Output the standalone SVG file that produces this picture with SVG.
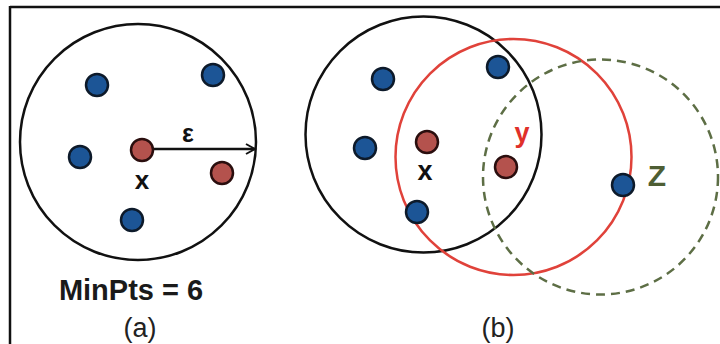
<svg xmlns="http://www.w3.org/2000/svg" width="720" height="344" viewBox="0 0 720 344">
<style>
.ring{fill:none;stroke:#111;stroke-width:2.5}
.blue{fill:#1c5596;stroke:#0d1a2a;stroke-width:2.5}
.red{fill:#b4524d;stroke:#2a0e0e;stroke-width:2.5}
.lbl{font-family:"Liberation Sans",Arial,sans-serif;font-weight:bold}
.cap{font-family:"Liberation Sans",Arial,sans-serif;font-size:27px;fill:#222}
</style>
<defs>
<marker id="arr" markerWidth="12" markerHeight="12" refX="10" refY="6" orient="auto" markerUnits="userSpaceOnUse">
<path d="M1,1 L10,6 L1,11" fill="none" stroke="#111" stroke-width="2"/>
</marker>
</defs>
<rect width="720" height="344" fill="#fff"/>
<g id="frame">
<line x1="10" y1="7" x2="720" y2="7" stroke="#111" stroke-width="2.5"/>
<line x1="10" y1="6" x2="10" y2="344" stroke="#111" stroke-width="2.5"/>
</g>
<g id="panel-a">
<circle class="ring" cx="138" cy="142" r="118"/>
<g id="connectors"><line x1="153" y1="149" x2="255" y2="149" stroke="#111" stroke-width="2.5" marker-end="url(#arr)"/></g>
<circle class="blue" cx="97" cy="85" r="11"/>
<circle class="blue" cx="213" cy="75" r="11"/>
<circle class="blue" cx="80" cy="157" r="11"/>
<circle class="blue" cx="132" cy="220" r="11"/>
<circle class="red" cx="142" cy="150" r="11"/>
<circle class="red" cx="222" cy="173" r="11"/>
<text class="lbl" x="188" y="142" font-size="25" text-anchor="middle" fill="#111">ε</text>
<text class="lbl" x="142" y="189" font-size="26" text-anchor="middle" fill="#111">x</text>
<text class="lbl" x="131" y="300" font-size="29" text-anchor="middle" fill="#1a1a1a">MinPts = 6</text>
<text class="cap" x="140" y="337" text-anchor="middle">(a)</text>
</g>
<g id="panel-b">
<circle class="ring" cx="423.5" cy="134.5" r="118"/>
<circle cx="513.5" cy="157" r="118" fill="none" stroke="#e0423a" stroke-width="2.5"/>
<circle cx="600.5" cy="177" r="117.5" fill="none" stroke="#5d6e45" stroke-width="2.5" stroke-dasharray="9,6"/>
<circle class="blue" cx="383" cy="79" r="11"/>
<circle class="blue" cx="498" cy="67" r="11"/>
<circle class="blue" cx="365" cy="148" r="11"/>
<circle class="blue" cx="417" cy="212" r="11"/>
<circle class="blue" cx="623" cy="185" r="11"/>
<circle class="red" cx="427" cy="142" r="11"/>
<circle class="red" cx="506" cy="167" r="11"/>
<text class="lbl" x="425" y="180" font-size="27" text-anchor="middle" fill="#111">x</text>
<text class="lbl" x="522" y="142" font-size="27" text-anchor="middle" fill="#e0302a">y</text>
<text class="lbl" x="657" y="186" font-size="30" text-anchor="middle" fill="#4e5e34">Z</text>
<text class="cap" x="498" y="337" text-anchor="middle">(b)</text>
</g>
</svg>
